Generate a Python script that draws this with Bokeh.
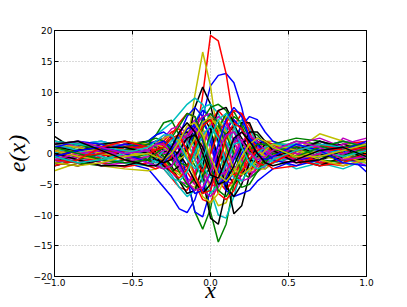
from bokeh.plotting import figure
from bokeh.models import FixedTicker, LinearAxis, Range1d
from bokeh.embed import file_html
from bokeh.resources import INLINE

x_values = [-1.0, -0.85, -0.7, -0.55, -0.4, -0.35, -0.3, -0.25, -0.2, -0.15, -0.1, -0.05,
            0.0, 0.05, 0.1, 0.15, 0.2, 0.25, 0.3, 0.35, 0.4, 0.55, 0.7, 0.85, 1.0]

blue_curves = [
    [0.5, 1.2, 0.8, -0.5, -1.0, -0.5, 0.5, 1.5, 1.0, -1.0, 0.5, 6.0, 11.0, 12.7, 13.0, 11.5, 7.5, 2.0, -1.5, -2.5, -1.5, 1.0, 1.5, 0.0, -1.0],
    [1.5, 0.5, -1.0, -1.5, -2.5, -4.0, -5.5, -7.0, -9.0, -9.6, -7.5, -3.5, 1.0, 4.0, 5.0, 3.5, 1.0, -1.0, -1.5, -0.5, 0.5, 1.5, 0.5, -1.0, -0.5],
    [-1.0, -1.5, -0.5, 1.0, 1.5, 2.0, 2.5, 3.0, 1.0, -4.0, -9.5, -10.3, -6.0, 0.0, 4.0, 5.5, 4.0, 1.5, 0.0, -0.5, 0.0, 1.0, 0.5, -0.5, 1.0],
    [0.5, 1.5, 2.0, 1.0, 0.0, -1.0, -2.0, -2.0, 0.5, 3.0, 5.0, 7.0, 6.0, 3.0, 1.0, 2.0, 4.5, 6.0, 5.5, 3.5, 2.0, 0.5, 2.0, 0.5, -3.0],
    [2.0, 1.0, 0.0, 0.5, 2.0, 3.0, 3.5, 2.5, 0.5, 1.0, 3.5, 5.0, 3.0, -2.0, -6.0, -7.0, -6.5, -6.0, -4.5, -3.5, -2.5, -1.0, 0.5, 1.0, 1.5],
    [-2.0, -1.0, 0.5, 1.5, 1.0, 0.0, -1.0, 0.5, 3.0, 6.0, 7.5, 6.0, 2.0, -3.0, -5.0, -3.0, 0.0, 2.0, 2.5, 1.5, 0.5, -1.0, -0.5, 1.0, 0.5],
    [1.0, 2.0, 1.5, 0.0, -1.5, -2.0, -1.5, 0.0, 2.0, 4.0, 4.5, 2.0, -2.0, -5.0, -4.0, -1.0, 1.5, 2.5, 1.5, 0.0, -1.0, -2.0, -1.0, 0.5, 2.0],
    [-0.5, 0.5, 1.0, 0.0, 0.5, 1.5, 2.0, 1.0, -1.5, -4.5, -6.5, -6.0, -3.0, 1.5, 5.5, 7.5, 6.0, 2.5, 0.0, -1.0, -0.5, 1.5, 0.5, -1.5, -2.0],
]
green_curves = [
    [0.5, 1.0, 0.0, -1.0, -0.5, 0.5, 1.5, 2.5, 3.0, 3.5, 2.0, -2.5, -9.5, -14.4, -11.5, -5.0, 1.0, 3.5, 3.0, 1.5, 0.0, -1.0, 0.5, 1.0, 0.0],
    [-1.5, -0.5, 1.0, 1.5, 0.5, -0.5, -1.0, -0.5, -1.5, -4.0, -9.5, -12.3, -9.0, -2.0, 3.5, 6.0, 5.0, 2.5, 0.0, -1.0, -1.0, 0.5, 1.5, 0.0, -1.0],
    [0.0, 0.5, 1.5, 1.0, 1.5, 3.0, 5.0, 5.4, 3.0, 0.5, -2.0, -3.5, -2.5, 0.0, 2.5, 3.5, 2.0, 0.0, -1.0, -0.5, 0.5, 1.0, 0.0, -1.0, -1.5],
    [1.5, 2.0, 1.0, 0.0, -1.0, -2.0, -2.5, -2.0, -0.5, 1.0, 3.0, 5.5, 7.5, 8.0, 7.0, 4.5, 1.5, -1.0, -2.0, -1.0, 0.5, 2.0, 1.5, -0.5, 0.5],
    [-0.5, -1.5, -2.0, -1.0, 0.0, 0.5, 0.0, -1.0, -3.0, -5.0, -6.0, -4.0, 0.0, 4.0, 6.5, 6.8, 4.5, 1.5, 0.0, 0.5, 1.5, 2.5, 2.0, 1.0, 1.5],
    [2.0, 1.5, 0.5, 0.5, 1.5, 1.0, -0.5, -2.5, -4.5, -5.5, -4.0, -0.5, 3.0, 4.5, 3.0, 0.0, -3.0, -4.0, -3.0, -1.5, 0.0, 0.5, -1.0, -1.5, 0.5],
    [-2.0, -1.0, 0.0, 1.0, 2.0, 2.5, 2.0, 0.5, -1.5, -2.0, 0.0, 4.0, 6.5, 5.0, 1.0, -3.0, -5.5, -5.0, -3.0, -1.0, 0.5, 1.0, -0.5, -0.5, 1.0],
    [1.0, 0.0, -1.0, -1.5, -1.0, 0.0, 1.0, 2.5, 4.5, 6.5, 6.0, 2.5, -2.0, -6.0, -7.0, -5.0, -2.0, 0.5, 1.5, 1.5, 1.0, -0.5, 1.0, 2.0, 1.0],
]
red_curves = [
    [0.0, 0.5, 1.0, 0.5, -0.5, -1.0, -1.5, -2.5, -3.0, -2.0, 1.5, 9.5, 19.2, 18.3, 13.0, 5.0, -1.5, -3.5, -2.5, -1.0, 0.0, 1.0, 1.5, 0.5, -0.5],
    [-1.5, -2.0, -1.0, 0.5, 1.5, 2.0, 1.5, 0.0, -1.5, -3.0, -5.0, -7.5, -8.0, -5.0, 0.0, 4.5, 6.5, 4.5, 1.5, -0.5, -1.0, 0.5, 1.0, 0.0, 1.0],
    [1.0, 0.5, -1.5, -2.2, -1.5, 0.0, 1.5, 3.0, 5.0, 6.5, 6.0, 3.0, -1.0, -4.5, -6.0, -4.0, -1.0, 1.0, 2.0, 1.5, 0.0, -1.0, -0.5, 1.5, 2.0],
    [-0.5, 0.0, 0.5, 1.5, 0.5, -1.0, -2.5, -4.0, -5.5, -6.0, -3.5, 1.0, 5.0, 7.0, 5.5, 2.0, -1.0, -2.5, -2.0, -0.5, 1.0, 0.0, -1.5, -1.0, 0.0],
    [2.0, 1.0, 0.0, -1.0, -2.0, -2.5, -2.0, -0.5, 1.5, 3.0, 4.0, 2.0, -3.0, -6.5, -7.5, -6.0, -3.0, 0.0, 1.5, 2.0, 1.5, -0.5, -1.5, -2.0, -1.0],
    [-1.0, -1.5, -0.5, 0.5, 0.0, 0.5, 2.0, 3.5, 4.0, 2.0, -1.0, -3.0, 0.0, 3.5, 5.0, 7.0, 6.5, 3.5, 0.5, -1.5, -2.5, -2.0, 0.0, 1.0, 0.5],
    [0.5, -0.5, 0.0, 1.0, 1.0, 0.0, -1.5, -3.0, -4.0, -2.5, 1.0, 4.5, 5.5, 3.0, -1.0, -3.5, -3.0, -1.0, 0.5, 1.0, 0.5, -1.0, -2.0, -1.5, 0.0],
    [-2.0, -1.0, 1.0, 2.0, 1.0, 0.5, 1.0, 2.5, 3.0, 0.5, -3.5, -6.5, -6.0, -2.0, 2.5, 5.0, 4.0, 1.0, -1.5, -2.0, -1.5, 0.5, 1.5, 0.5, 1.0],
]
cyan_curves = [
    [0.5, 1.0, 0.5, -0.5, -1.0, -0.5, 0.5, 1.5, 2.5, 3.5, 3.0, -1.0, -6.0, -10.0, -10.5, -7.0, -2.5, 0.5, 1.5, 1.0, 0.0, -0.5, -2.0, -1.5, -0.5],
    [-1.0, -0.5, 0.5, 1.0, 2.0, 3.0, 4.0, 5.0, 6.5, 8.0, 9.0, 8.0, 5.0, 1.5, -1.5, -2.5, -1.0, 0.5, 1.0, 0.0, -1.0, -0.5, 1.0, 0.5, -0.5],
    [1.0, 0.0, -1.0, -0.5, 0.5, 0.0, -1.0, -2.0, -1.0, 1.5, 5.0, 7.5, 8.0, 6.5, 4.0, 1.0, -1.5, -2.0, -1.0, 0.0, 1.0, 1.5, 0.5, -1.0, -1.5],
    [-1.5, -1.0, 0.0, 1.0, 0.5, -0.5, -2.0, -3.5, -5.5, -7.0, -6.0, -2.5, 1.0, 3.0, 2.0, -0.5, -2.0, -1.5, 0.0, 1.0, -0.5, -2.5, -1.5, -2.5, -1.0],
    [0.0, 1.5, 2.0, 1.0, -0.5, -1.5, -1.0, 0.5, 2.5, 3.0, 1.0, -2.0, -4.0, -3.0, 0.5, 4.0, 5.5, 4.0, 1.5, -0.5, -1.5, -0.5, 1.0, 2.0, 1.0],
    [1.5, 0.5, -0.5, -1.5, -2.0, -1.0, 0.5, 2.0, 3.0, 2.0, -1.0, -4.5, -6.5, -5.0, -1.5, 1.5, 2.0, 0.5, -1.0, -1.0, 0.5, 1.5, 0.0, 0.5, 1.5],
    [2.0, 1.5, 1.0, 0.5, 0.0, -1.0, -2.5, -4.0, -4.5, -3.0, 0.0, 3.0, 4.5, 2.5, -1.5, -4.0, -4.5, -2.5, 0.0, 1.0, 1.5, 1.5, 0.5, -0.5, 0.5],
    [-0.5, -1.5, -1.0, 0.0, 1.0, 2.0, 3.0, 3.0, 1.5, -1.0, -2.5, -1.0, 2.5, 5.5, 6.5, 4.5, 1.0, -1.5, -2.5, -2.0, -1.0, 0.5, 1.5, 1.0, -0.5],
]
magenta_curves = [
    [1.0, 1.5, 0.5, -0.5, -1.0, -1.5, -1.0, 0.5, 2.0, 4.0, 5.5, 4.0, 1.0, -2.5, -4.5, -5.0, -3.5, -1.5, 0.0, 1.0, 1.5, 0.5, 1.0, 2.0, 1.5],
    [-0.5, -1.0, -0.5, 0.5, 1.5, 2.0, 1.0, -0.5, -2.5, -4.0, -5.0, -4.5, -2.0, 1.5, 4.5, 5.5, 4.0, 1.5, -0.5, -1.5, -1.0, 0.5, -1.5, 2.5, 1.0],
    [0.5, -0.5, -1.5, -1.0, 0.0, 1.0, 2.5, 4.0, 4.5, 3.0, 0.0, -3.0, -5.0, -5.5, -3.0, 0.0, 2.0, 2.5, 1.5, 0.0, -1.0, -1.5, 0.0, 1.0, 0.0],
    [-1.5, -0.5, 1.0, 1.5, 0.5, -0.5, -1.5, -3.0, -4.5, -5.0, -3.0, 1.0, 4.5, 6.0, 5.0, 2.0, -1.0, -3.0, -3.0, -2.0, -0.5, 1.0, 0.5, -0.5, -2.0],
    [2.0, 1.0, 0.0, 0.5, 1.0, 0.5, 0.0, 0.5, 1.0, -1.0, -3.5, -6.0, -7.0, -5.5, -2.0, 1.5, 3.5, 3.0, 1.0, -0.5, 0.0, 1.5, 2.5, 1.0, 0.5],
    [0.0, -1.0, -2.0, -1.5, -0.5, 0.0, 0.5, 1.0, 2.0, 3.0, 4.5, 6.0, 6.5, 5.0, 1.5, -2.0, -4.5, -4.0, -2.0, 0.0, 1.0, 0.0, -0.5, 0.0, 1.0],
    [-1.0, 0.0, 0.5, -0.5, -1.5, -2.0, -2.5, -2.0, 0.0, 2.5, 4.0, 2.5, -1.0, -3.5, -3.0, -0.5, 2.0, 3.0, 2.0, 0.5, -0.5, -1.0, 0.0, 1.5, 2.5],
    [1.5, 2.0, 1.0, 0.0, 0.5, 1.5, 1.5, 0.0, -2.0, -4.5, -6.0, -5.5, -3.0, 0.5, 3.0, 3.5, 2.0, 0.0, -1.0, -0.5, 0.5, 2.0, 1.0, -1.0, -0.5],
]
yellow_curves = [
    [-2.8, -1.5, 0.0, 0.5, -0.5, -1.0, -1.5, -1.0, -0.5, 1.5, 9.5, 16.5, 11.0, 2.0, -5.5, -5.0, -1.5, 1.0, 1.5, 0.5, -0.5, 0.0, 1.0, 0.5, 0.0],
    [1.0, 0.5, -0.5, -1.5, -2.0, -1.0, 0.5, 2.0, 3.0, 3.0, 1.5, -2.0, -6.0, -8.5, -8.0, -4.5, -1.0, 1.5, 2.0, 1.0, 0.0, -0.5, 0.5, 1.0, 0.5],
    [0.0, -1.0, -2.0, -2.5, -2.8, -2.5, -1.0, 0.5, 2.0, 3.5, 4.5, 4.0, 2.0, -0.5, -2.5, -3.5, -3.0, -1.0, 1.0, 2.0, 2.0, 1.0, -0.5, -1.0, -0.5],
    [0.5, 1.0, 1.5, 0.5, -0.5, -0.5, 0.0, -1.0, -3.0, -5.0, -5.5, -3.0, 1.0, 4.5, 6.0, 4.5, 1.5, -1.0, -2.5, -2.5, -1.5, 0.5, 3.2, 2.0, 0.0],
    [-1.0, 0.0, 1.0, 2.0, 1.5, 0.5, -1.0, -2.5, -3.5, -3.0, -1.0, 2.0, 5.0, 5.5, 3.5, 0.5, -2.0, -3.0, -2.0, -0.5, 0.5, 1.5, 0.5, -1.0, 1.0],
    [1.5, 1.0, 0.0, -0.5, 0.5, 1.5, 2.5, 3.0, 2.0, -0.5, -4.0, -7.0, -8.0, -6.5, -3.5, -0.5, 1.0, 1.5, 0.5, -0.5, -1.0, -0.5, 0.5, -0.5, -1.5],
    [0.5, -0.5, -1.0, 0.0, 1.0, 1.5, 1.0, 0.0, -1.0, 0.0, 2.5, 5.0, 6.0, 4.0, 0.5, -2.5, -3.5, -2.5, -1.0, 0.5, 1.5, 0.5, -1.0, -2.0, -1.0],
    [-1.5, -2.0, -1.5, -0.5, 0.0, -0.5, -1.0, 0.0, 2.0, 4.5, 5.0, 3.0, -0.5, -3.5, -4.5, -3.0, -0.5, 1.5, 2.5, 2.0, 1.0, -0.5, -0.5, 0.5, 1.5],
]
black_curves = [
    [2.8, 0.3, -1.0, 0.5, 1.5, 1.0, 0.0, -1.0, -1.5, 1.5, 7.5, 10.8, 8.0, 2.0, -3.0, -5.0, -3.5, -1.0, 1.0, 1.5, 1.0, -0.5, -1.5, -1.0, 0.0],
    [-1.0, -0.5, 0.5, 1.5, 2.0, 1.5, 0.5, -0.5, -1.0, 0.5, 3.0, 5.0, 5.5, 2.0, -4.0, -9.8, -8.5, -3.5, 0.0, 1.5, 1.5, 0.0, -1.0, 0.0, 1.0],
    [0.5, 1.5, 1.0, 0.0, -1.0, -1.0, 0.0, 1.0, 3.0, 3.5, 1.5, -4.0, -10.5, -11.5, -6.0, 1.0, 5.0, 5.0, 2.0, -0.5, -1.5, -0.5, 1.0, 1.5, 0.5],
    [-1.5, -2.0, -1.0, 0.5, 1.0, 0.5, -0.5, -2.0, -4.5, -6.5, -6.0, -2.0, 3.5, 7.0, 7.5, 5.0, 1.5, -1.0, -1.5, -0.5, 0.5, 1.0, 0.0, -1.0, -1.0],
    [1.0, 0.5, 1.5, 2.0, 1.0, -0.5, -2.0, -3.0, -2.0, 1.0, 4.5, 6.0, 4.0, -1.0, -5.5, -7.0, -5.0, -1.5, 1.5, 2.0, 1.0, -1.0, -2.0, -0.5, 1.5],
    [0.0, -1.0, -2.0, -2.0, -1.0, 0.5, 1.0, 0.5, 0.0, -2.0, -4.5, -6.5, -5.0, -1.0, 3.0, 4.5, 2.5, 0.5, -0.5, -1.0, -0.5, 0.5, 2.0, 1.0, -1.0],
    [-0.5, 0.5, 1.0, 1.0, 0.0, -1.0, -1.5, -1.0, 0.5, 2.5, 3.0, 1.0, -2.5, -5.0, -4.5, -2.0, 1.0, 3.5, 3.5, 2.0, 0.5, -1.5, -1.0, 0.5, 1.0],
    [1.5, 2.0, 0.5, -1.0, -2.0, -2.0, -1.0, 1.0, 3.5, 5.0, 3.5, 0.0, -3.5, -4.0, -1.0, 2.5, 3.5, 2.0, 0.0, -1.5, -2.0, -1.0, 0.5, 1.0, -0.5],
]

x_ticks = [-1.0, -0.5, 0.0, 0.5, 1.0]
x_tick_labels = ["\u22121.0", "\u22120.5", "0.0", "0.5", "1.0"]
y_ticks = [-20, -15, -10, -5, 0, 5, 10, 15, 20]
y_tick_labels = ["\u221220", "\u221215", "\u221210", "\u22125", "0", "5", "10", "15", "20"]

groups = [
    (blue_curves, "#0000ff"),
    (green_curves, "#008000"),
    (red_curves, "#ff0000"),
    (cyan_curves, "#00bfbf"),
    (magenta_curves, "#bf00bf"),
    (yellow_curves, "#bfbf00"),
    (black_curves, "#000000"),
]

W, H = 400, 306
p = figure(width=W, height=H, output_backend="svg", toolbar_location=None,
           x_range=Range1d(-1, 1), y_range=Range1d(-20, 20),
           min_border_left=51, min_border_right=W - 366, min_border_top=30, min_border_bottom=H - 276)
p.background_fill_color = "white"
p.border_fill_color = "white"
p.outline_line_color = "black"
p.outline_line_width = 1

for i in range(len(blue_curves)):
    for curves, col in groups:
        p.line(x_values, curves[i], line_color=col, line_width=1.5)

xt = FixedTicker(ticks=x_ticks)
yt = FixedTicker(ticks=y_ticks)
for ax in p.xaxis:
    ax.ticker = xt
    ax.major_label_overrides = dict(zip(x_ticks, x_tick_labels))
    ax.axis_label = "x"
    ax.axis_label_standoff = -12
for ax in p.yaxis:
    ax.ticker = yt
    ax.major_label_overrides = dict(zip(y_ticks, y_tick_labels))
    ax.axis_label = "e(x)"
    ax.axis_label_standoff = 1

for ax in list(p.xaxis) + list(p.yaxis):
    ax.major_tick_in = 4
    ax.major_tick_out = 0
    ax.minor_tick_line_color = None
    ax.axis_line_color = "black"
    ax.major_tick_line_color = "black"
    ax.major_label_text_font = "DejaVu Sans"
    ax.major_label_text_font_size = "9px"
    ax.major_label_text_color = "black"
    ax.major_label_standoff = 2
    ax.axis_label_text_font = "Liberation Serif"
    ax.axis_label_text_font_style = "italic"
    ax.axis_label_text_font_size = "24px"
    ax.axis_label_text_color = "black"

top_axis = LinearAxis(ticker=FixedTicker(ticks=x_ticks), major_tick_in=4, major_tick_out=0,
                      minor_tick_line_color=None, major_label_text_color=None,
                      major_label_text_font_size="1px", axis_line_color="black")
right_axis = LinearAxis(ticker=FixedTicker(ticks=y_ticks), major_tick_in=4, major_tick_out=0,
                        minor_tick_line_color=None, major_label_text_color=None,
                        major_label_text_font_size="1px", axis_line_color="black")
p.add_layout(top_axis, "above")
p.add_layout(right_axis, "right")

p.xgrid.ticker = xt
p.ygrid.ticker = yt
for g in (p.xgrid, p.ygrid):
    g.grid_line_color = "#b4b4b4"
    g.grid_line_dash = "1 2"
    g.grid_line_width = 1

open("out.html", "w").write(file_html(p, INLINE))
